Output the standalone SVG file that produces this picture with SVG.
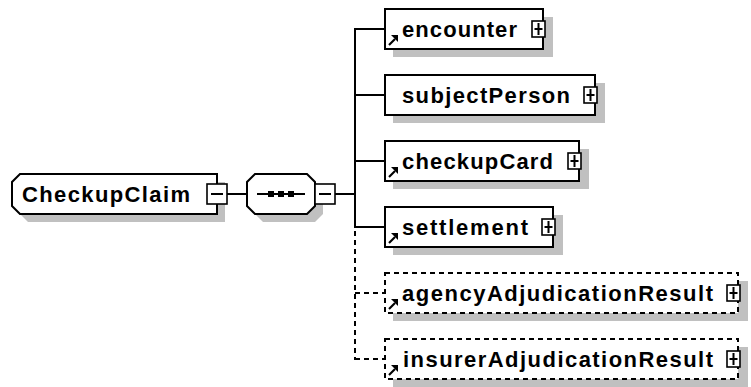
<svg xmlns="http://www.w3.org/2000/svg" width="751" height="387" viewBox="0 0 751 387">
<style>
.sh{fill:#c0c0c0}
.bx{fill:#fff;stroke:#000;stroke-width:2}
.dx{fill:#fff;stroke:#000;stroke-width:2;stroke-dasharray:5 4}
.ln{fill:none;stroke:#000;stroke-width:2}
.dl{fill:none;stroke:#000;stroke-width:2;stroke-dasharray:5 4}
.t{font-family:"Liberation Sans",Arial,sans-serif;font-weight:bold;font-size:22px;fill:#000}
.pm{fill:#fff;stroke:#000;stroke-width:1.6}
.ar{stroke:#000;stroke-width:2.2;fill:none}
.ah{fill:#000}
</style>
<defs>
<g id="arrow"><line class="ar" x1="389" y1="16" x2="395" y2="10"/><polygon class="ah" points="398,6 398,13 391,6"/></g>
</defs>

<g id="connectors">
<line class="ln" x1="227" y1="194" x2="247" y2="194"/>
<line class="ln" x1="335" y1="194" x2="355" y2="194"/>
<line class="ln" x1="355" y1="28" x2="355" y2="228"/>
<line class="dl" x1="355" y1="231" x2="355" y2="360"/>
<line class="ln" x1="355" y1="29" x2="385" y2="29"/>
<line class="ln" x1="355" y1="95" x2="385" y2="95"/>
<line class="ln" x1="355" y1="161" x2="385" y2="161"/>
<line class="ln" x1="355" y1="227" x2="385" y2="227"/>
<line class="dl" x1="355" y1="293" x2="385" y2="293"/>
<line class="dl" x1="355" y1="359" x2="385" y2="359"/>
</g>

<g id="CheckupClaim">
<path class="sh" d="M28,182 H225 V222 H28 L20,214 V190 Z"/>
<path class="bx" d="M20,174 H217 V214 H20 L12,206 V182 Z"/>
<text class="t" x="22" y="202" textLength="168" lengthAdjust="spacing">CheckupClaim</text>
<rect class="pm" x="207" y="184" width="20" height="20"/>
<line class="ln" x1="211" y1="194" x2="223" y2="194"/>
</g>

<g id="sequence">
<polygon class="sh" points="263,182 315,182 323,190 323,214 315,222 263,222 255,214 255,190"/>
<polygon class="bx" points="255,174 307,174 315,182 315,206 307,214 255,214 247,206 247,182"/>
<line class="ln" x1="257" y1="194" x2="305" y2="194"/>
<rect x="268" y="191" width="6" height="6"/>
<rect x="278" y="191" width="6" height="6"/>
<rect x="288" y="191" width="6" height="6"/>
<rect class="pm" x="315" y="184" width="20" height="20"/>
<line class="ln" x1="319" y1="194" x2="331" y2="194"/>
</g>

<g id="encounter">
<rect class="sh" x="393" y="17" width="160" height="40"/>
<rect class="bx" x="385" y="9" width="158" height="40"/>
<text class="t" x="402" y="37" textLength="115" lengthAdjust="spacing">encounter</text>
<rect class="pm" x="532" y="21" width="13" height="16"/>
<path class="ln" d="M534.5,29 H542.5 M538.5,23 V35"/>
<use href="#arrow" y="29"/>
</g>

<g id="subjectPerson">
<rect class="sh" x="393" y="83" width="212" height="40"/>
<rect class="bx" x="385" y="75" width="210" height="40"/>
<text class="t" x="402" y="103" textLength="168" lengthAdjust="spacing">subjectPerson</text>
<rect class="pm" x="584" y="87" width="13" height="16"/>
<path class="ln" d="M586.5,95 H594.5 M590.5,89 V101"/>
</g>

<g id="checkupCard">
<rect class="sh" x="393" y="149" width="196" height="40"/>
<rect class="bx" x="385" y="141" width="194" height="40"/>
<text class="t" x="402" y="169" textLength="151" lengthAdjust="spacing">checkupCard</text>
<rect class="pm" x="568" y="153" width="13" height="16"/>
<path class="ln" d="M570.5,161 H578.5 M574.5,155 V167"/>
<use href="#arrow" y="161"/>
</g>

<g id="settlement">
<rect class="sh" x="393" y="215" width="170" height="40"/>
<rect class="bx" x="385" y="207" width="168" height="40"/>
<text class="t" x="402" y="235" textLength="126" lengthAdjust="spacing">settlement</text>
<rect class="pm" x="542" y="219" width="13" height="16"/>
<path class="ln" d="M544.5,227 H552.5 M548.5,221 V233"/>
<use href="#arrow" y="227"/>
</g>

<g id="agencyAdjudicationResult">
<rect class="sh" x="393" y="281" width="355" height="40"/>
<rect class="dx" x="385" y="273" width="353" height="40"/>
<text class="t" x="402" y="301" textLength="311" lengthAdjust="spacing">agencyAdjudicationResult</text>
<rect class="pm" x="727" y="285" width="13" height="16"/>
<path class="ln" d="M729.5,293 H737.5 M733.5,287 V299"/>
<use href="#arrow" y="293"/>
</g>

<g id="insurerAdjudicationResult">
<rect class="sh" x="393" y="347" width="355" height="40"/>
<rect class="dx" x="385" y="339" width="353" height="40"/>
<text class="t" x="403" y="367" textLength="310" lengthAdjust="spacing">insurerAdjudicationResult</text>
<rect class="pm" x="727" y="351" width="13" height="16"/>
<path class="ln" d="M729.5,359 H737.5 M733.5,353 V365"/>
<use href="#arrow" y="359"/>
</g>
</svg>
